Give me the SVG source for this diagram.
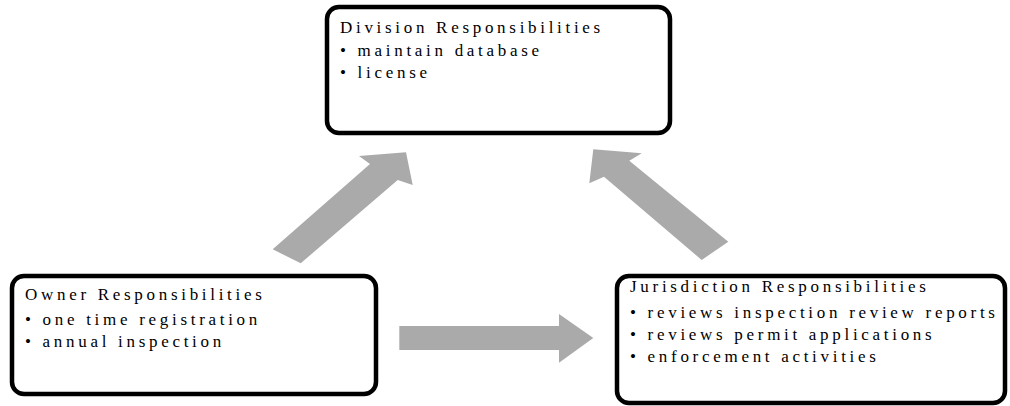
<svg xmlns="http://www.w3.org/2000/svg" width="1010" height="406" viewBox="0 0 1010 406">
<style>
.box{fill:#fff;stroke:#000;stroke-width:4.5}
.t{font-family:"Liberation Serif","Times New Roman",serif;font-size:17px;letter-spacing:3.7px;fill:#000}
.arr{fill:#aaaaaa}
</style>
<rect width="1010" height="406" fill="#fff"/>
<g id="connectors">
<polygon class="arr" points="272.7,249.3 370,164 359,156 406,152.3 412.7,185 397.7,180 300.7,263.3"/>
<polygon class="arr" points="728.3,241.7 629.3,160.7 641.7,153.3 593.3,149.3 589.3,183.3 604,176.7 701.7,260"/>
<polygon class="arr" points="399.3,326 559,326 559,314 593.3,338 559,362.7 559,350 399.3,350"/>
</g>
<g id="division">
<rect class="box" x="327" y="7" width="343" height="126" rx="12"/>
<text class="t" x="340" y="33">Division Responsibilities</text>
<text class="t" x="340" y="56">• maintain database</text>
<text class="t" x="340" y="78">• license</text>
</g>
<g id="owner">
<rect class="box" x="12" y="276" width="364" height="118" rx="12"/>
<text class="t" x="25" y="300">Owner Responsibilities</text>
<text class="t" x="25" y="325">• one time registration</text>
<text class="t" x="25" y="347">• annual inspection</text>
</g>
<g id="jurisdiction">
<rect class="box" x="617" y="276" width="388" height="127" rx="12"/>
<text class="t" x="630" y="292">Jurisdiction Responsibilities</text>
<text class="t" x="630" y="318">• reviews inspection review reports</text>
<text class="t" x="630" y="340">• reviews permit applications</text>
<text class="t" x="630" y="362">• enforcement activities</text>
</g>
</svg>
